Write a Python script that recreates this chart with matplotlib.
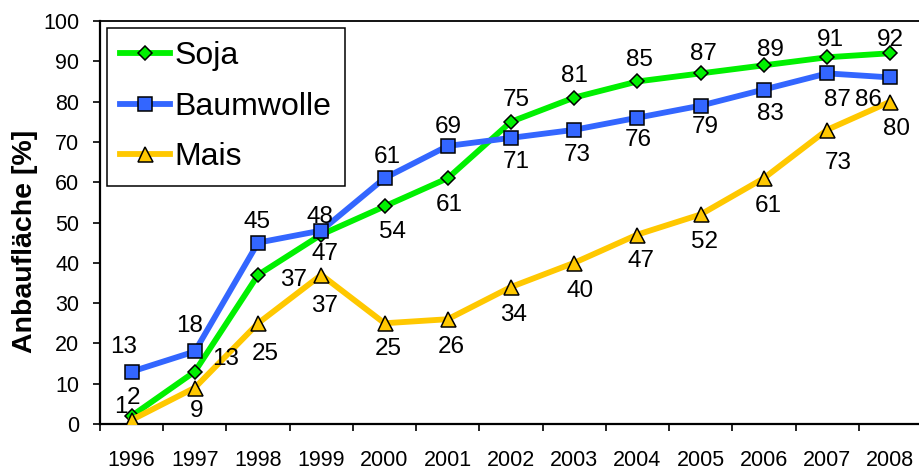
import matplotlib
matplotlib.use("Agg")
import matplotlib.pyplot as plt
from matplotlib.ticker import FixedLocator, NullFormatter, FixedFormatter

plt.rcParams['font.family'] = ['Liberation Sans', 'DejaVu Sans']

years = ['1996', '1997', '1998', '1999', '2000', '2001', '2002',
         '2003', '2004', '2005', '2006', '2007', '2008']
soja = [2, 13, 37, 47, 54, 61, 75, 81, 85, 87, 89, 91, 92]
baumwolle = [13, 18, 45, 48, 61, 69, 71, 73, 76, 79, 83, 87, 86]
mais = [1, 9, 25, 37, 25, 26, 34, 40, 47, 52, 61, 73, 80]

# label offsets in pixels (dx right, dy down) from the point to label centre
soja_off = [(2, -21), (31, -15), (35, 2), (4, 17), (8, 23), (1, 24), (5, -24),
            (0, -24), (2, -24), (3, -22), (7, -18), (3, -20), (0, -16)]
baum_off = [(-8, -27), (-5, -28), (-1, -23), (-1, -16), (3, -24), (0, -22),
            (5, 21), (3, 22), (1, 20), (5, 19), (7, 22), (10, 24), (-22, 20)]
mais_off = [(-11, -16), (2, 21), (7, 28), (3, 28), (4, 23), (3, 25), (3, 25),
            (6, 25), (4, 24), (4, 25), (4, 25), (11, 30), (6, 25)]

W, H, DPI = 920, 473, 100
fig = plt.figure(figsize=(W / DPI, H / DPI), dpi=DPI)
ax = fig.add_axes([100 / W, 1 - 424 / H, 822 / W, 403 / H])

x = list(range(len(years)))
green = '#00F000'
blue = '#3366FF'
yellow = '#FFC800'
lw = 4.2

ax.plot(x, soja, color=green, lw=lw, marker='D', ms=7.4, mfc=green,
        mec='black', mew=1.1, label='Soja', zorder=3)
ax.plot(x, baumwolle, color=blue, lw=lw, marker='s', ms=9.4, mfc=blue,
        mec='black', mew=1.1, label='Baumwolle', zorder=3)
ax.plot(x, mais, color=yellow, lw=lw, marker='^', ms=10.8, mfc=yellow,
        mec='black', mew=1.1, label='Mais', zorder=4)

fs_lab = 17.5
half_digit = 0.716 * fs_lab * DPI / 72 / 2
for vals, offs in ((soja, soja_off), (baumwolle, baum_off), (mais, mais_off)):
    for xi, (v, (dx, dy)) in enumerate(zip(vals, offs)):
        ax.annotate(str(v), (xi, v), xytext=(dx * 0.72, -(dy + half_digit) * 0.72),
                    textcoords='offset points', ha='center', va='baseline',
                    fontsize=fs_lab, zorder=6)

ax.set_xlim(-0.5, len(years) - 0.5)
ax.set_ylim(0, 100)
ax.set_yticks(range(0, 101, 10))
ax.tick_params(axis='y', labelsize=15.5, length=5, width=1.2, pad=10, direction='out')

ax.xaxis.set_major_locator(FixedLocator([i - 0.5 for i in range(len(years) + 1)]))
ax.xaxis.set_major_formatter(NullFormatter())
ax.xaxis.set_minor_locator(FixedLocator(x))
ax.xaxis.set_minor_formatter(FixedFormatter(years))
ax.tick_params(axis='x', which='major', length=5, width=1.2, direction='out')
ax.tick_params(axis='x', which='minor', length=0, labelsize=15.5, pad=19)

for side in ('left', 'bottom'):
    ax.spines[side].set_linewidth(1.6)
for side in ('top', 'right'):
    ax.spines[side].set_linewidth(1.3)

leg = ax.legend(loc='upper left', bbox_to_anchor=(7 / 822, 396 / 403),
                borderaxespad=0, fontsize=23, handlelength=1.55,
                handletextpad=0.15, labelspacing=0.64, borderpad=0.42,
                fancybox=False, framealpha=1, edgecolor='black')
leg.get_frame().set_linewidth(1.1)
leg.set_zorder(10)

fig.text(25 / W, 1 - 241 / H, 'Anbaufläche [%]', rotation=90, ha='center',
         va='center', fontsize=20.5, fontweight='bold')

fig.savefig('out.png', dpi=DPI)
